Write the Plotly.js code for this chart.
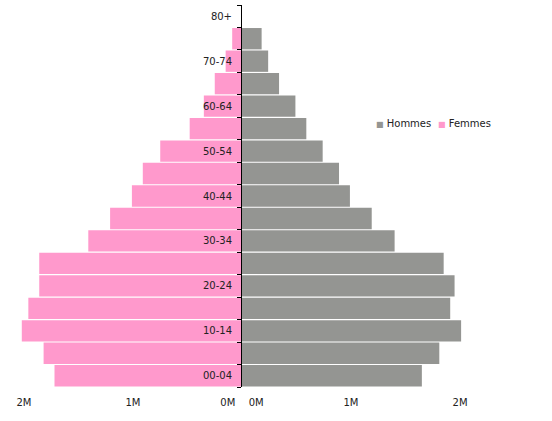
<!DOCTYPE html>
<html>
<head>
<meta charset="utf-8">
<script src="https://cdn.plot.ly/plotly-3.0.1.min.js"></script>
<style>html,body{margin:0;padding:0;background:#fff;}#chart{width:552px;height:421px;}</style>
</head>
<body>
<div id="chart"></div>
<script>
// Age groups, bottom to top
var ageGroups = ['00-04','05-09','10-14','15-19','20-24','25-29','30-34','35-39','40-44','45-49','50-54','55-59','60-64','65-69','70-74','75-79','80+'];
// Tick labels shown on the age axis (every other group)
var ageLabels = ['00-04','','10-14','','20-24','','30-34','','40-44','','50-54','','60-64','','70-74','','80+'];
// Population, millions
var hommes = [1.65,1.81,2.01,1.91,1.95,1.85,1.40,1.19,0.99,0.89,0.74,0.59,0.49,0.34,0.24,0.18,0];
var femmes = [1.72,1.82,2.02,1.96,1.86,1.86,1.41,1.21,1.01,0.91,0.75,0.48,0.35,0.25,0.15,0.09,0];
// Series names and colours
var seriesNames = ['Hommes','Femmes'];
var seriesColors = ['#949592','#ff99cc'];
// Value axis tick labels
var valueTickValues = [0, 1, 2];
var valueTickText = ['0M','1M','2M'];

var MILLION = 1e6;
var hommesAbs = hommes.map(function(v){return v*MILLION;});
var femmesAbs = femmes.map(function(v){return v*MILLION;});
// the library that drew the reference pushes the "0M" labels away from the centre line
var zeroLabelNudge = 0.13;
var tickVals = valueTickValues.map(function(v){return (v===0?zeroLabelNudge:v)*MILLION;});

var FONT = 'DejaVu Sans, Verdana, sans-serif';
var maxRange = 2.22*MILLION;

var traces = [
  {type:'bar', orientation:'h', name:seriesNames[0], x:hommesAbs, y:ageGroups, xaxis:'x2', yaxis:'y',
   marker:{color:seriesColors[0]}, hoverinfo:'x+y'},
  {type:'bar', orientation:'h', name:seriesNames[1], x:femmesAbs, y:ageGroups, xaxis:'x', yaxis:'y',
   marker:{color:seriesColors[1]}, hoverinfo:'x+y'}
];

var xCommon = {showgrid:false, zeroline:false, showline:false, ticks:'',
  tickmode:'array', tickvals:tickVals, ticktext:valueTickText, ticklabelstandoff:8,
  tickfont:{family:FONT, size:10, color:'#222'}, fixedrange:true};

// compact legend (square + label), as in the reference
var legendX = [0.775, 0.903];
var annotations = seriesNames.map(function(n, i){
  return {xref:'paper', yref:'paper', x:legendX[i], y:0.691, xanchor:'left', yanchor:'middle',
    showarrow:false, borderpad:0,
    text:'<span style="color:'+seriesColors[i]+';font-size:8px">■</span> '+n,
    font:{family:FONT, size:10, color:'#222'}};
});

var layout = {
  width:552, height:421,
  margin:{l:0, r:68, t:5, b:34, pad:0},
  paper_bgcolor:'#fff', plot_bgcolor:'#fff',
  font:{family:FONT, size:10, color:'#222'},
  bargap:0.05,
  showlegend:false,
  xaxis:Object.assign({}, xCommon, {domain:[0,0.5], range:[maxRange,0], anchor:'y'}),
  xaxis2:Object.assign({}, xCommon, {domain:[0.5,1], range:[0,maxRange], anchor:'y'}),
  yaxis:{anchor:'x2', side:'left', type:'category', categoryorder:'array', categoryarray:ageGroups,
    tickmode:'array', tickvals:ageGroups, ticktext:ageLabels, tickson:'boundaries',
    ticks:'outside', ticklen:4, tickwidth:1, tickcolor:'#000',
    showline:true, linecolor:'#000', linewidth:1, showgrid:false, zeroline:false,
    tickfont:{family:FONT, size:10, color:'#222'}, ticklabelstandoff:7, fixedrange:true},
  annotations:annotations
};

Plotly.newPlot('chart', traces, layout, {displayModeBar:false, staticPlot:true});
</script>
</body>
</html>
